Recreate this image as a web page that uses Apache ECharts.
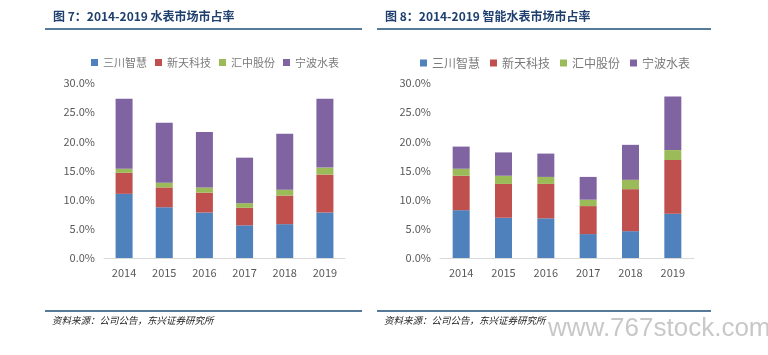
<!DOCTYPE html>
<html>
<head>
<meta charset="utf-8">
<script src="https://cdn.jsdelivr.net/npm/echarts@6/dist/echarts.min.js"></script>
<style>
html,body{margin:0;padding:0;background:#fff;}
#c{width:768px;height:355px;}
</style>
</head>
<body>
<div id="c"></div>
<script>
// ---- data ----
var years = ['2014','2015','2016','2017','2018','2019'];
var seriesNames = ['三川智慧','新天科技','汇中股份','宁波水表'];
var colors = ['#4F81BD','#C0504D','#9BBB59','#8064A2'];

// Figure 7: water meter market share (%)
var left_sanchuan = [11.0, 8.7, 7.8, 5.6, 5.8, 7.8];
var left_xintian  = [3.6, 3.4, 3.4, 3.0, 4.9, 6.5];
var left_huizhong = [0.7, 0.8, 0.9, 0.8, 1.0, 1.2];
var left_ningbo   = [12.0, 10.3, 9.5, 7.8, 9.6, 11.8];

// Figure 8: smart water meter market share (%)
var right_sanchuan = [8.2, 6.9, 6.8, 4.1, 4.6, 7.6];
var right_xintian  = [5.9, 5.8, 5.9, 4.8, 7.2, 9.2];
var right_huizhong = [1.2, 1.4, 1.2, 1.1, 1.6, 1.7];
var right_ningbo   = [3.8, 4.0, 4.0, 3.9, 6.0, 9.2];

var title1 = '图 7：2014-2019 水表市场市占率';
var title2 = '图 8：2014-2019 智能水表市场市占率';
var sourceText = '资料来源：公司公告，东兴证券研究所';
var watermark = 'www.767stock.com';

// ---- chart ----
var FONT = '"Noto Sans CJK SC","Microsoft YaHei",sans-serif';
var leftData = [left_sanchuan, left_xintian, left_huizhong, left_ningbo];
var rightData = [right_sanchuan, right_xintian, right_huizhong, right_ningbo];

function yAxis(gi){
  return {
    gridIndex: gi, type:'value', min:0, max:30, interval:5,
    axisLine:{show:false}, axisTick:{show:false}, splitLine:{show:false},
    axisLabel:{color:'#595959', fontSize:11, fontFamily:FONT, margin:9,
      formatter:function(v){return v.toFixed(1)+'%';}}
  };
}
function xAxis(gi){
  return {
    gridIndex: gi, type:'category', data: years,
    axisLine:{show:true, lineStyle:{color:'#d9d9d9', width:1}},
    axisTick:{show:false},
    axisLabel:{color:'#595959', fontSize:11, fontFamily:FONT, margin:9}
  };
}
var series = [];
seriesNames.forEach(function(n,i){
  series.push({name:n, type:'bar', stack:'L', xAxisIndex:0, yAxisIndex:0,
    barWidth:17, data:leftData[i], itemStyle:{color:colors[i]}});
});
seriesNames.forEach(function(n,i){
  series.push({name:n, type:'bar', stack:'R', xAxisIndex:1, yAxisIndex:1,
    barWidth:17, data:rightData[i], itemStyle:{color:colors[i]}});
});

var lineColor = '#1F4E79';
var option = {
  animation:false,
  backgroundColor:'#ffffff',
  color: colors,
  grid:[
    {left:104, right:423, top:83, bottom:97},
    {left:440, right:74, top:83, bottom:97}
  ],
  xAxis:[xAxis(0), xAxis(1)],
  yAxis:[yAxis(0), yAxis(1)],
  legend:[
    {data:seriesNames, left:86, top:52, itemWidth:7, itemHeight:7, itemGap:8,
      icon:'rect', textStyle:{color:'#7a7a7a', fontSize:11, fontFamily:FONT}},
    {data:seriesNames, left:415, top:52, itemWidth:7, itemHeight:7, itemGap:10,
      icon:'rect', textStyle:{color:'#7a7a7a', fontSize:12, fontFamily:FONT}}
  ],
  series: series,
  graphic:[
    {type:'text', left:53, top:10, style:{text:title1, fill:'#1F3F6E', font:'bold 12px '+FONT}},
    {type:'text', left:385, top:10, style:{text:title2, fill:'#1F3F6E', font:'bold 12px '+FONT}},
    {type:'line', shape:{x1:45, y1:29, x2:362, y2:29}, style:{stroke:lineColor, lineWidth:1.5}},
    {type:'line', shape:{x1:377, y1:29, x2:711, y2:29}, style:{stroke:lineColor, lineWidth:1.5}},
    {type:'line', shape:{x1:45, y1:311, x2:362, y2:311}, style:{stroke:lineColor, lineWidth:1.5}},
    {type:'line', shape:{x1:377, y1:311, x2:711, y2:311}, style:{stroke:lineColor, lineWidth:1.5}},
    {type:'text', left:52, top:316, style:{text:sourceText, fill:'#222', font:'italic 9.5px '+FONT}},
    {type:'text', left:384, top:316, style:{text:sourceText, fill:'#222', font:'italic 9.5px '+FONT}},
    {type:'text', left:548, top:316, style:{text:watermark, fill:'#c8c8c8', font:'26px "Liberation Sans", Arial, sans-serif'}}
  ]
};
var chart = echarts.init(document.getElementById('c'), null, {renderer:'canvas'});
chart.setOption(option);
</script>
</body>
</html>
